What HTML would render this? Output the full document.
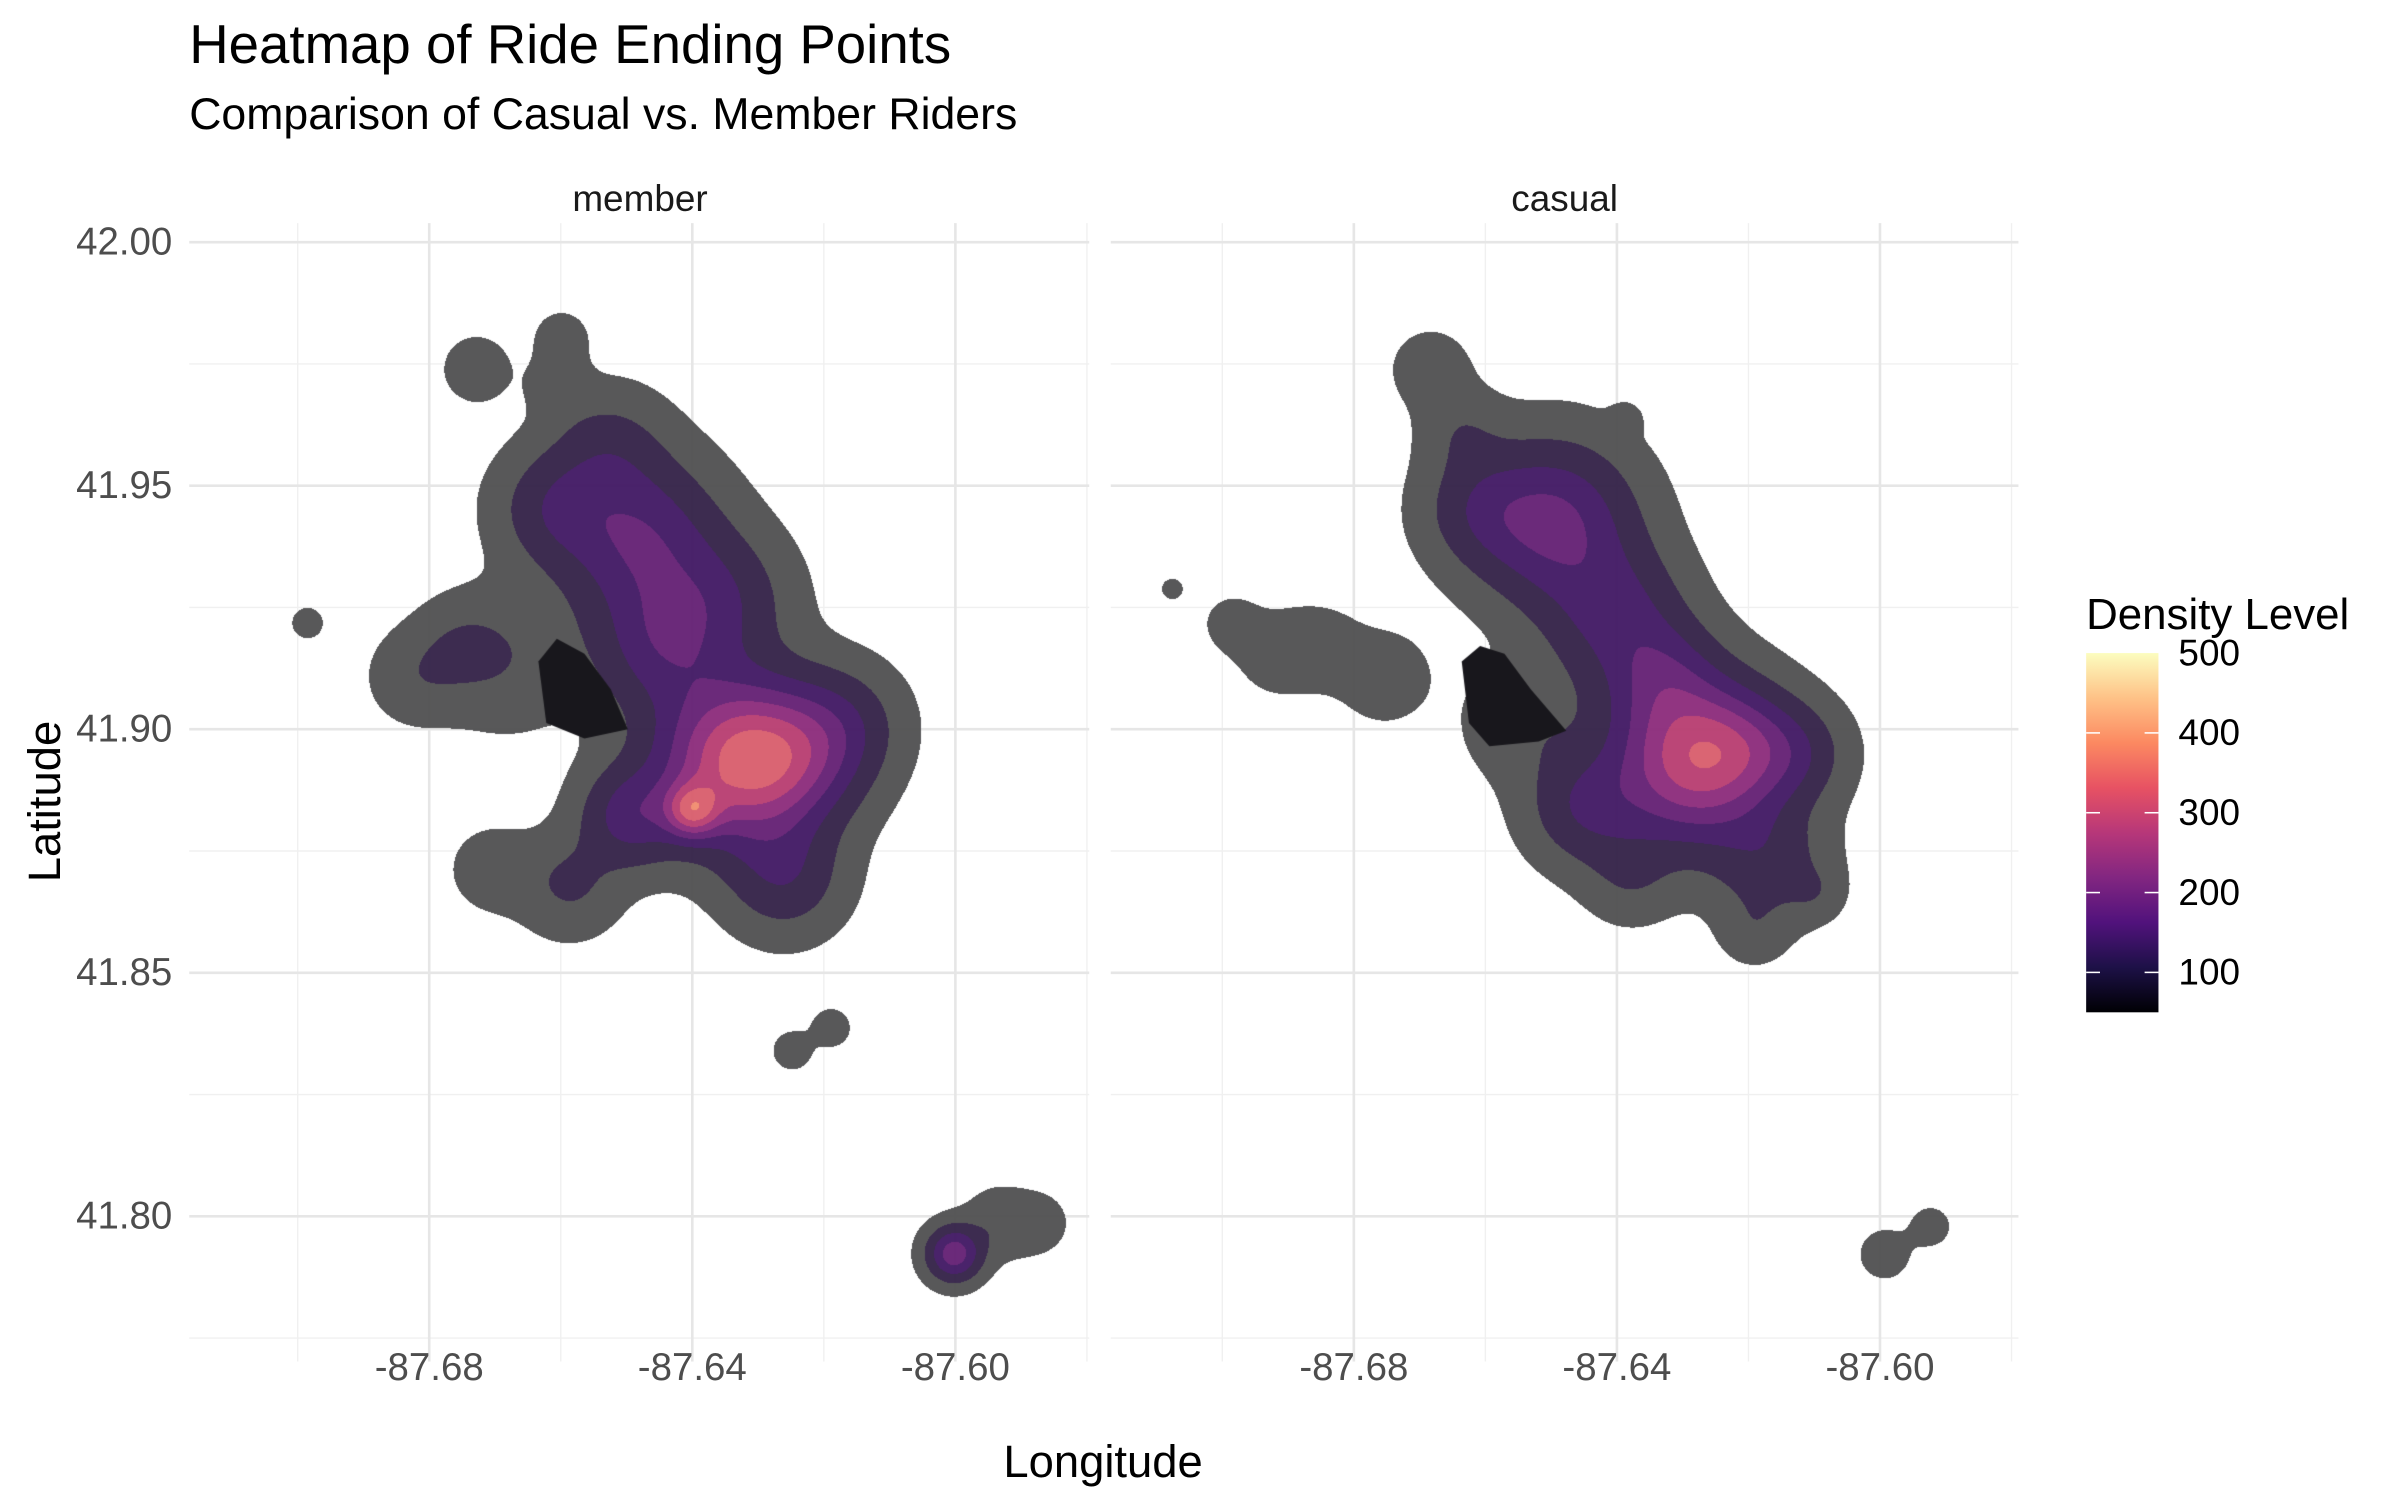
<!DOCTYPE html>
<html><head><meta charset="utf-8"><style>
html,body{margin:0;padding:0;background:#fff;}
#wrap{position:relative;width:2400px;height:1500px;overflow:hidden;}
svg,canvas{position:absolute;left:0;top:0;}
text{font-family:"Liberation Sans",Arial,sans-serif;}
</style></head><body>
<div id="wrap">
<svg id="bg" width="2400" height="1500" viewBox="0 0 1560 975"></svg>
<canvas id="cv" width="2400" height="1500"></canvas>
<svg id="fg" width="2400" height="1500" viewBox="0 0 1560 975">
  <text x="123" y="41" font-size="35.5" fill="#000">Heatmap of Ride Ending Points</text>
  <text x="123" y="84" font-size="29" fill="#000">Comparison of Casual vs. Member Riders</text>
  <text x="416" y="137" font-size="24" fill="#1a1a1a" text-anchor="middle">member</text>
  <text x="1017" y="137" font-size="24" fill="#1a1a1a" text-anchor="middle">casual</text>
  <text x="717" y="960" font-size="29.5" fill="#000" text-anchor="middle">Longitude</text>
  <text x="0" y="0" font-size="29.5" fill="#000" text-anchor="middle" transform="translate(39,521) rotate(-90)">Latitude</text>
  <text x="1356" y="409" font-size="28.5" fill="#000">Density Level</text>
  <g id="legend"></g>
</svg>
</div>
<script>
// ---- data ----
const xTicks = [-87.68, -87.64, -87.60];
const xMinor = [-87.70, -87.66, -87.62, -87.58];
const yTicks = [41.80, 41.85, 41.90, 41.95, 42.00];
const yMinor = [41.775, 41.825, 41.875, 41.925, 41.975];
const legendTicks = [100, 200, 300, 400, 500];
const bandBreaks = [12, 50, 100, 150, 200, 250, 300, 350, 400, 450];
const bandColors = ['#4e4e4f','#311f45','#3f1562','#621d72','#8a2879','#b73a6e','#d85b6a','#f08a6c','#fbbf8a','#fde0b0'];

const memberLon  = [-87.6330,-87.6400,-87.6236,-87.6482,-87.6447,-87.6353,-87.6494,-87.6260,-87.6611,-87.6529,-87.6166,-87.6681,-87.6821,-87.6599,-87.6728,-87.6704,-87.6587,-87.6985,-87.6248,-87.6189,-87.6002,-87.5932,-87.5874,-87.6606,-87.6751];
const memberLat  = [41.8934,41.8833,41.8949,41.9392,41.9171,41.9265,41.8823,41.8697,41.9455,41.9581,41.9013,41.9139,41.9107,41.9803,41.9739,41.8712,41.8681,41.9218,41.8340,41.8387,41.7923,41.7986,41.7986,41.9708,41.9171];
const memberPeak = [290,190,110,140,110,75,115,85,75,55,55,40,35,30,32,32,55,25,30,30,180,40,35,30,35];
const memberSd   = [0.0082,0.0028,0.0070,0.0082,0.0070,0.0070,0.0051,0.0059,0.0059,0.0059,0.0059,0.0070,0.0047,0.0028,0.0035,0.0042,0.0051,0.0019,0.0021,0.0021,0.0028,0.0035,0.0028,0.0030,0.0047];

const casualLon  = [-87.6285,-87.6203,-87.6496,-87.6402,-87.6332,-87.6122,-87.6449,-87.6168,-87.6613,-87.6683,-87.6917,-87.6753,-87.6987,-87.6543,-87.6192,-87.6098,-87.6379,-87.7076,-87.6386,-87.5993,-87.5923,-87.6636,-87.6847];
const casualLat  = [41.8934,41.8965,41.9423,41.9234,41.9107,41.8949,41.8839,41.8728,41.9455,41.9739,41.9155,41.9107,41.9218,41.9013,41.8586,41.8665,41.8697,41.9288,41.9638,41.7922,41.7979,41.9613,41.9171];
const casualPeak = [265,80,160,105,90,60,90,70,60,30,24,32,22,40,30,28,40,22,22,28,25,35,24];
const casualSd   = [0.0082,0.0059,0.0082,0.0070,0.0059,0.0051,0.0059,0.0059,0.0059,0.0042,0.0047,0.0047,0.0030,0.0059,0.0035,0.0028,0.0047,0.0014,0.0016,0.0028,0.0023,0.0042,0.0042];

const memberHoleLon = [-87.6634,-87.6606,-87.6564,-87.6524,-87.6498,-87.6564,-87.6622];
const memberHoleLat = [41.9139,41.9186,41.9155,41.9082,41.9000,41.8981,41.9013];
const casualHoleLon = [-87.6636,-87.6608,-87.6571,-87.6531,-87.6477,-87.6519,-87.6594,-87.6625];
const casualHoleLat = [41.9139,41.9171,41.9155,41.9082,41.8997,41.8975,41.8965,41.9013];

// ---- scales (display units, viewBox 1560x975) ----
const S = 2400/1560;
const panels = [{left:123,right:708,off:0,name:'member'},{left:722,right:1312,off:601,name:'casual'}];
const TOP=145, BOTTOM=885;
function xScale(p, lon){ return 450 + p.off + (lon + 87.64)*4275; }
function yScale(lat){ return 474 - (lat - 41.90)*3166; }
function xInv(p, x){ return -87.64 + (x - 450 - p.off)/4275; }
function yInv(y){ return 41.90 + (474 - y)/3166; }

const NS='http://www.w3.org/2000/svg';
function mk(parent, tag, attrs){ const e=document.createElementNS(NS,tag); for(const k in attrs) e.setAttribute(k,attrs[k]); parent.appendChild(e); return e; }

const bg=document.getElementById('bg');
panels.forEach(p=>{
  yMinor.forEach(v=>{ const l=mk(bg,'line',{x1:p.left,x2:p.right,y1:yScale(v),y2:yScale(v),stroke:'#f0f0f0','stroke-width':0.9});
      });
  xMinor.forEach(v=>{ const l=mk(bg,'line',{x1:xScale(p,v),x2:xScale(p,v),y1:TOP,y2:BOTTOM,stroke:'#f0f0f0','stroke-width':0.9});
      });
  yTicks.forEach(v=>{ const l=mk(bg,'line',{x1:p.left,x2:p.right,y1:yScale(v),y2:yScale(v),stroke:'#e6e6e6','stroke-width':1.7});
      });
  xTicks.forEach(v=>{ const l=mk(bg,'line',{x1:xScale(p,v),x2:xScale(p,v),y1:TOP,y2:BOTTOM,stroke:'#e6e6e6','stroke-width':1.7});
      });
});

const fg=document.getElementById('fg');
yTicks.forEach(v=>{ const t=mk(fg,'text',{x:112,y:yScale(v)+8,'font-size':25,fill:'#4d4d4d','text-anchor':'end'});
  t.textContent=v.toFixed(2);
    });
panels.forEach(p=>{ xTicks.forEach(v=>{ const t=mk(fg,'text',{x:xScale(p,v),y:897,'font-size':25,fill:'#4d4d4d','text-anchor':'middle'});
  t.textContent=v.toFixed(2);
    }); });

// legend colorbar
const lg=document.getElementById('legend');
const defs=mk(fg,'defs',{});
const grad=mk(defs,'linearGradient',{id:'magma',x1:0,y1:1,x2:0,y2:0});
['#000004','#1d1147','#51127c','#822681','#b73779','#e75263','#fc8961','#fec287','#fcfdbf'].forEach((c,i)=>mk(grad,'stop',{offset:(i/8),'stop-color':c}));
const lMin=50,lMax=500,lTop=424.5,lBot=658;
function lScale(v){ return lBot - (v-lMin)/(lMax-lMin)*(lBot-lTop); }
const bar=mk(lg,'rect',{x:1356,y:lTop,width:47,height:lBot-lTop,fill:'url(#magma)'});
 
legendTicks.forEach(v=>{
  if(v<lMax){ mk(lg,'line',{x1:1356,x2:1365,y1:lScale(v),y2:lScale(v),stroke:'#fff','stroke-width':1});
    mk(lg,'line',{x1:1394,x2:1403,y1:lScale(v),y2:lScale(v),stroke:'#fff','stroke-width':1}); }
  const t=mk(lg,'text',{x:1456,y:lScale(v)+8,'font-size':24,fill:'#000','text-anchor':'end'});
  t.textContent=String(v);
   
});

// ---- density contours on canvas ----
const cv=document.getElementById('cv'); const ctx=cv.getContext('2d');
function hex(c){ return [parseInt(c.slice(1,3),16),parseInt(c.slice(3,5),16),parseInt(c.slice(5,7),16)]; }
const rgb=bandColors.map(hex);
function drawDensity(p, lons, lats, peaks, sds){
  const x0=Math.round(p.left*S), x1=Math.round(p.right*S), y0=Math.round(TOP*S), y1=Math.round(BOTTOM*S);
  const w=x1-x0, h=y1-y0;
  const img=ctx.getImageData(x0,y0,w,h); const d=img.data;
  const n=lons.length;
  for(let j=0;j<h;j++){
    const lat=yInv((y0+j+0.5)/S);
    for(let i=0;i<w;i++){
      const lon=xInv(p,(x0+i+0.5)/S);
      let s=0;
      for(let k=0;k<n;k++){
        const dx=(lon-lons[k])/sds[k], dy=(lat-lats[k])/(sds[k]*1.35);
        const q=dx*dx+dy*dy; if(q<30) s+=peaks[k]*Math.exp(-0.5*q);
      }
      if(s<bandBreaks[0]) continue;
      let b=0; while(b+1<bandBreaks.length && s>=bandBreaks[b+1]) b++;
      const o=(j*w+i)*4, c=rgb[b];
      d[o]=c[0]; d[o+1]=c[1]; d[o+2]=c[2]; d[o+3]=240;
    }
  }
  ctx.putImageData(img,x0,y0);
}
function drawHole(p, lons, lats){
  ctx.beginPath();
  lons.forEach((lon,i)=>{ const x=xScale(p,lon)*S, y=yScale(lats[i])*S; if(i===0) ctx.moveTo(x,y); else ctx.lineTo(x,y); });
  ctx.closePath(); ctx.fillStyle='#18171c'; ctx.fill();
}
drawDensity(panels[0], memberLon, memberLat, memberPeak, memberSd);
drawDensity(panels[1], casualLon, casualLat, casualPeak, casualSd);
drawHole(panels[0], memberHoleLon, memberHoleLat);
drawHole(panels[1], casualHoleLon, casualHoleLat);
</script>
</body></html>
